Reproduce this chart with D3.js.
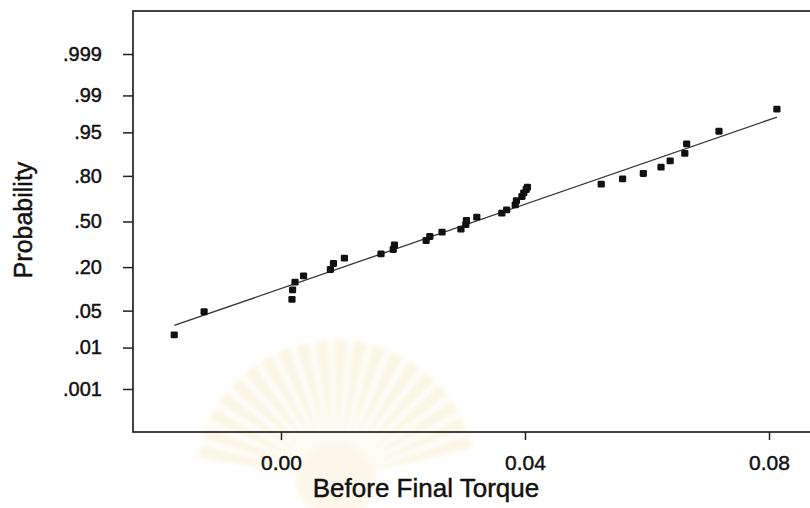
<!DOCTYPE html>
<html>
<head>
<meta charset="utf-8">
<script src="https://cdn.jsdelivr.net/npm/d3@7/dist/d3.min.js"></script>
<style>
  html, body { margin: 0; padding: 0; background: #fff; }
  svg { display: block; }
  text { font-family: "Liberation Sans", Arial, Helvetica, sans-serif; fill: #111; stroke: #111; stroke-width: 0.45px; }
</style>
</head>
<body>
<svg id="chart" width="810" height="508"></svg>
<script>
// Observed torque values (sorted) and their plotting-position probabilities
const torque = [
  -0.0175, -0.0126, 0.0018, 0.0019, 0.0023, 0.0037, 0.0081, 0.0086, 0.0104,
  0.0164, 0.0184, 0.0186, 0.0238, 0.0244, 0.0264, 0.0295, 0.0303, 0.0304,
  0.0321, 0.0362, 0.0370, 0.0384, 0.0386, 0.0395, 0.0398, 0.0402, 0.0404,
  0.0525, 0.0560, 0.0594, 0.0623, 0.0638, 0.0662, 0.0665, 0.0718, 0.0813
];
const probability = [
  0.0183, 0.0479, 0.0752, 0.1038, 0.1316, 0.1582, 0.1878, 0.2192, 0.2495,
  0.2746, 0.3026, 0.3322, 0.3628, 0.3909, 0.4219, 0.4435, 0.4781, 0.5072,
  0.5319, 0.5608, 0.5851, 0.6210, 0.6506, 0.6776, 0.7016, 0.7224, 0.7366,
  0.7546, 0.7847, 0.8122, 0.8418, 0.8686, 0.8953, 0.9242, 0.9521, 0.9809
];

// Axis ticks
const probTicks = [0.001, 0.01, 0.05, 0.20, 0.50, 0.80, 0.95, 0.99, 0.999];
const probTickLabels = [".001", ".01", ".05", ".20", ".50", ".80", ".95", ".99", ".999"];
const torqueTicks = [0.00, 0.04, 0.08];

// Fitted normal distribution (reference line)
const fitMean = 0.0318;
const fitSd = 0.0257;

// Inverse of the standard normal CDF (Acklam's rational approximation)
function probit(p) {
  const a = [-3.969683028665376e+01, 2.209460984245205e+02, -2.759285104469687e+02,
             1.383577518672690e+02, -3.066479806614716e+01, 2.506628277459239e+00];
  const b = [-5.447609879822406e+01, 1.615858368580409e+02, -1.556989798598866e+02,
             6.680131188771972e+01, -1.328068155288572e+01];
  const c = [-7.784894002430293e-03, -3.223964580411365e-01, -2.400758277161838e+00,
             -2.549732539343734e+00, 4.374664141464968e+00, 2.938163982698783e+00];
  const d = [7.784695709041462e-03, 3.224671290700398e-01, 2.445134137142996e+00,
             3.754408661907416e+00];
  const pLow = 0.02425, pHigh = 1 - pLow;
  let q, r;
  if (p < pLow) {
    q = Math.sqrt(-2 * Math.log(p));
    return (((((c[0]*q + c[1])*q + c[2])*q + c[3])*q + c[4])*q + c[5]) /
           ((((d[0]*q + d[1])*q + d[2])*q + d[3])*q + 1);
  }
  if (p <= pHigh) {
    q = p - 0.5; r = q * q;
    return (((((a[0]*r + a[1])*r + a[2])*r + a[3])*r + a[4])*r + a[5]) * q /
           (((((b[0]*r + b[1])*r + b[2])*r + b[3])*r + b[4])*r + 1);
  }
  q = Math.sqrt(-2 * Math.log(1 - p));
  return -(((((c[0]*q + c[1])*q + c[2])*q + c[3])*q + c[4])*q + c[5]) /
          ((((d[0]*q + d[1])*q + d[2])*q + d[3])*q + 1);
}

const svg = d3.select("#chart");
const frame = { left: 133, top: 11, right: 812, bottom: 432 };

// Faint, soft sunburst seal printed behind the lower part of the plot
const defs = svg.append("defs");
defs.append("filter").attr("id", "soft")
  .attr("x", "-20%").attr("y", "-20%").attr("width", "140%").attr("height", "140%")
  .append("feGaussianBlur").attr("stdDeviation", 2.6);
const seal = svg.append("g")
  .attr("transform", "translate(336,480)")
  .attr("opacity", 0.2)
  .attr("filter", "url(#soft)");
const rayAngles = d3.range(-78, 79, 8);
seal.selectAll("path")
  .data(rayAngles)
  .join("path")
  .attr("d", a => {
    const r0 = 36, r1 = 140, w = 2.8;
    const rad = (a - 90) * Math.PI / 180;
    const rw = w * Math.PI / 180;
    const p = (r, t) => [r * Math.cos(t), r * Math.sin(t)];
    const [x0, y0] = p(r0, rad - rw * 0.5), [x1, y1] = p(r1, rad - rw);
    const [x2, y2] = p(r1, rad + rw), [x3, y3] = p(r0, rad + rw * 0.5);
    return `M${x0},${y0}L${x1},${y1}L${x2},${y2}L${x3},${y3}Z`;
  })
  .attr("fill", "#e8d27a");
seal.append("circle").attr("r", 40).attr("fill", "#efe0a0");

const x = d3.scaleLinear()
  .domain([-0.02426, 0.08705])
  .range([frame.left, frame.right]);

// Normal probability scale: linear in z = probit(p)
const zExtent = 3.884;
const zScale = d3.scaleLinear()
  .domain([-zExtent, zExtent])
  .range([frame.bottom, frame.top]);
const y = p => zScale(probit(p));

// Plot frame
svg.append("rect")
  .attr("x", frame.left).attr("y", frame.top)
  .attr("width", frame.right - frame.left)
  .attr("height", frame.bottom - frame.top)
  .attr("fill", "none")
  .attr("stroke", "#222")
  .attr("stroke-width", 1.7);

// Y axis (probability)
const yAxis = d3.axisLeft(zScale)
  .tickValues(probTicks.map(probit))
  .tickFormat((d, i) => probTickLabels[i])
  .tickSize(10)
  .tickPadding(21);
const gy = svg.append("g")
  .attr("transform", `translate(${frame.left},0)`)
  .call(yAxis);
gy.select(".domain").remove();
gy.selectAll(".tick line").attr("stroke", "#222").attr("stroke-width", 1.5);
gy.selectAll(".tick text")
  .attr("font-size", 20)
  .attr("font-family", "'Liberation Sans', Arial, sans-serif")
  .attr("fill", "#111");

// X axis (torque)
const xAxis = d3.axisBottom(x)
  .tickValues(torqueTicks)
  .tickFormat(d3.format(".2f"))
  .tickSize(8)
  .tickPadding(15);
const gx = svg.append("g")
  .attr("transform", `translate(0,${frame.bottom})`)
  .call(xAxis);
gx.select(".domain").remove();
gx.selectAll(".tick line").attr("stroke", "#222").attr("stroke-width", 1.5);
gx.selectAll(".tick text")
  .attr("font-size", 21)
  .attr("font-family", "'Liberation Sans', Arial, sans-serif")
  .attr("fill", "#111");

// Axis titles
svg.append("text")
  .attr("x", 426).attr("y", 497)
  .attr("text-anchor", "middle")
  .attr("font-size", 26)
  .text("Before Final Torque");

svg.append("text")
  .attr("transform", "translate(23,220) rotate(-90)")
  .attr("text-anchor", "middle")
  .attr("dominant-baseline", "central")
  .attr("font-size", 25)
  .text("Probability");

// Fitted line across the data range
const xMin = d3.min(torque), xMax = d3.max(torque);
svg.append("line")
  .attr("x1", x(xMin)).attr("y1", zScale((xMin - fitMean) / fitSd))
  .attr("x2", x(xMax)).attr("y2", zScale((xMax - fitMean) / fitSd))
  .attr("stroke", "#333")
  .attr("stroke-width", 1.3);

// Data points
const pts = torque.map((t, i) => ({ t, p: probability[i] }));
svg.append("g")
  .selectAll("rect")
  .data(pts)
  .join("rect")
  .attr("x", d => x(d.t) - 3.6)
  .attr("y", d => y(d.p) - 3.4)
  .attr("width", 7.2)
  .attr("height", 6.8)
  .attr("rx", 1.3)
  .attr("fill", "#111");
</script>
</body>
</html>
